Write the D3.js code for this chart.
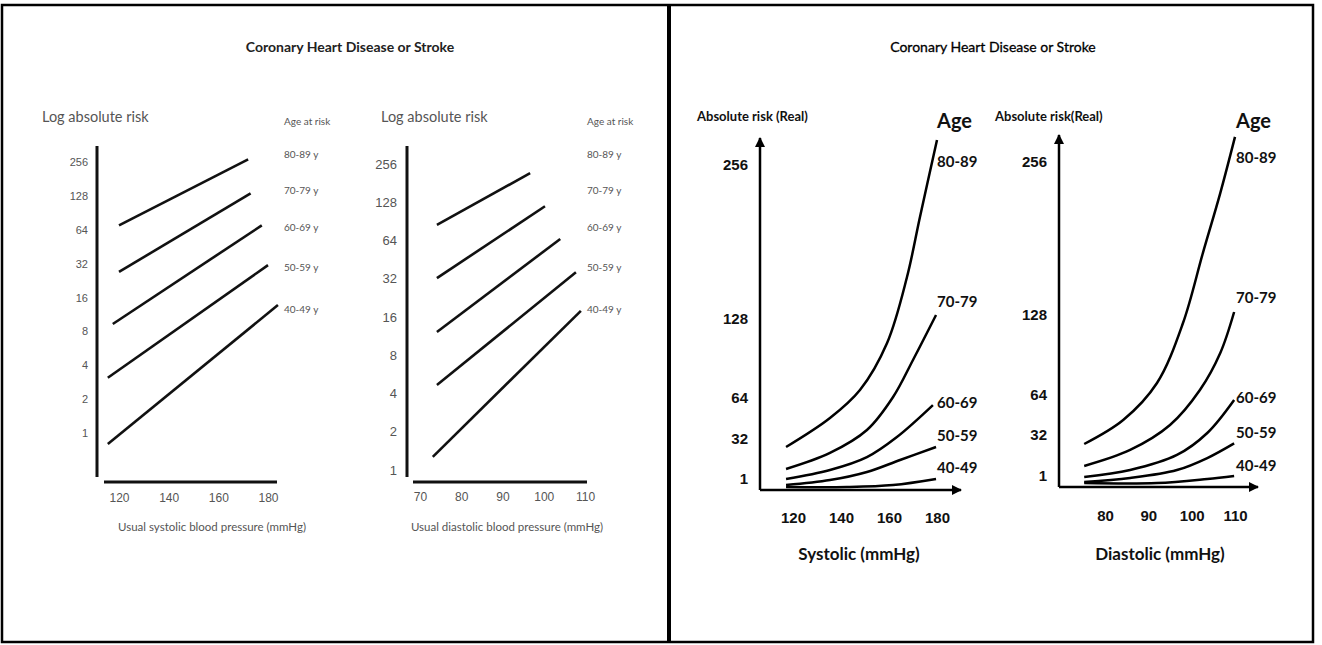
<!DOCTYPE html>
<html>
<head>
<meta charset="utf-8">
<script src="https://cdn.jsdelivr.net/npm/d3@7"></script>
<style>
  body { margin: 0; background: #fff; }
  svg { display: block; font-family: Lato, "Open Sans", sans-serif; }
</style>
</head>
<body>
<svg id="chart"></svg>
<script>
// Age groups, top to bottom
const ageGroups = ["80-89", "70-79", "60-69", "50-59", "40-49"]

// Tick values
const logRiskTicks = [1, 2, 4, 8, 16, 32, 64, 128, 256]
const realRiskTicks = [1, 32, 64, 128, 256]
const systolicTicks = [120, 140, 160, 180]
const diastolicLogTicks = [70, 80, 90, 100, 110]
const diastolicRealTicks = [80, 90, 100, 110]

// Log panel, systolic: [mmHg, risk] start and end of each age line
const systolicLogLines = [
  [[120, 70], [172, 270]],
  [[120, 27], [173, 135]],
  [[117.5, 9.3], [177.5, 70]],
  [[115.5, 3.1], [180, 31]],
  [[115.5, 0.8], [184, 13.7]]
]

// Log panel, diastolic
const diastolicLogLines = [
  [[74.1, 85], [96.7, 217]],
  [[74.1, 32.4], [100.3, 119]],
  [[74.1, 12.2], [104, 65.8]],
  [[74.1, 4.66], [107.8, 36]],
  [[73.1, 1.27], [109, 17.9]]
]

// Real panel, systolic curves
const systolicRealCurves = [
  [[117.1, 25.8], [135.4, 48.4], [147.9, 70.5], [159.2, 108.6], [167.5, 162.9], [172.9, 212.8], [180, 276.8]],
  [[117.1, 8.75], [135.4, 21.2], [150.8, 39], [161.7, 64.8], [170, 94.8], [179.6, 131.3]],
  [[117.1, 1], [135.4, 8], [150.8, 18], [163.3, 33.6], [178.3, 58.5]],
  [[117.1, 0.45], [135.4, 0.9], [150.8, 6.4], [164.6, 15.7], [179.6, 25.8]],
  [[117.1, 0.27], [142.5, 0.27], [161.7, 0.45], [179.6, 1]]
]

// Real panel, diastolic curves
const diastolicRealCurves = [
  [[75.2, 25.2], [84.2, 44], [92, 73.6], [98, 121.6], [102.6, 180], [106.6, 230], [110, 277]],
  [[75.2, 8.6], [85.8, 20.7], [95, 40], [101.9, 68], [106.6, 97.6], [109.8, 130.5]],
  [[75.2, 0.9], [85.8, 5.5], [96.6, 16.9], [103.6, 33.6], [109.8, 60]],
  [[75.2, 0.45], [85.8, 0.82], [96.6, 5.5], [103.6, 14.6], [109.8, 25.7]],
  [[75.2, 0.36], [92, 0.36], [103.6, 0.73], [109.8, 1]]
]

const svg = d3.select("#chart")
    .attr("width", 1322)
    .attr("height", 645)

// Arrow marker for the real-scale axes
svg.append("defs").append("marker")
    .attr("id", "arrow")
    .attr("viewBox", "0 0 10 10")
    .attr("refX", 9).attr("refY", 5)
    .attr("markerWidth", 4).attr("markerHeight", 4)
    .attr("markerUnits", "strokeWidth")
    .attr("orient", "auto")
  .append("path")
    .attr("d", "M0,0L10,5L0,10z")
    .attr("fill", "#000")

// Frame and divider
svg.append("rect")
    .attr("x", 2).attr("y", 5)
    .attr("width", 1311).attr("height", 637)
    .attr("fill", "none").attr("stroke", "#000").attr("stroke-width", 2.5)
svg.append("line")
    .attr("x1", 669).attr("x2", 669).attr("y1", 5).attr("y2", 642)
    .attr("stroke", "#000").attr("stroke-width", 4)

// Panel titles
svg.append("text")
    .attr("x", 350).attr("y", 46)
    .attr("text-anchor", "middle").attr("dominant-baseline", "central")
    .attr("font-size", 14).attr("font-weight", "bold").attr("fill", "#222")
    .text("Coronary Heart Disease or Stroke")
svg.append("text")
    .attr("x", 993).attr("y", 46)
    .attr("text-anchor", "middle").attr("dominant-baseline", "central")
    .attr("font-size", 14).attr("fill", "#000").attr("stroke", "#000").attr("stroke-width", 0.3)
    .text("Coronary Heart Disease or Stroke")

function logPanel(cfg) {
  let x = d3.scaleLinear().domain(cfg.xDomain).range(cfg.xRange)
  let y = d3.scaleLog().base(2).domain([1, 256]).range(cfg.yRange)
  let g = svg.append("g")

  // Axes: labels from d3, thick bare lines drawn on top
  g.append("g")
      .attr("transform", `translate(${cfg.yAxisX},0)`)
      .call(d3.axisLeft(y).tickValues(logRiskTicks).tickFormat(d3.format("d")).tickSize(0).tickPadding(cfg.yPad))
      .call(a => a.select(".domain").remove())
      .call(a => a.selectAll("text").attr("font-size", cfg.yFont).attr("fill", "#555").attr("font-family", null))
  g.append("g")
      .attr("transform", `translate(0,${cfg.xAxisY})`)
      .call(d3.axisBottom(x).tickValues(cfg.xTicks).tickSize(0))
      .call(a => a.select(".domain").remove())
      .call(a => a.selectAll("text").attr("y", cfg.xLabelDy).attr("dy", "0.35em")
        .attr("font-size", cfg.xFont).attr("fill", "#555").attr("font-family", null))

  g.append("line")
      .attr("x1", cfg.yAxisX).attr("x2", cfg.yAxisX)
      .attr("y1", cfg.yAxisTop).attr("y2", cfg.yAxisBottom)
      .attr("stroke", "#111").attr("stroke-width", 3)
  g.append("line")
      .attr("x1", cfg.xAxisLeft).attr("x2", cfg.xAxisRight)
      .attr("y1", cfg.xAxisY).attr("y2", cfg.xAxisY)
      .attr("stroke", "#111").attr("stroke-width", 3)

  let line = d3.line().x(d => x(d[0])).y(d => y(d[1]))
  g.selectAll(".age-line")
    .data(cfg.lines)
    .join("path")
      .attr("class", "age-line")
      .attr("d", line)
      .attr("fill", "none").attr("stroke", "#111").attr("stroke-width", 2.6)

  // Texts
  g.append("text")
      .attr("x", cfg.yTitleX).attr("y", 116).attr("dominant-baseline", "central")
      .attr("font-size", 14.5).attr("fill", "#555")
      .text("Log absolute risk")
  g.append("text")
      .attr("x", cfg.ageX).attr("y", 121).attr("dominant-baseline", "central")
      .attr("font-size", 10).attr("fill", "#555")
      .text("Age at risk")
  g.selectAll(".age-label")
    .data(ageGroups)
    .join("text")
      .attr("class", "age-label")
      .attr("x", cfg.ageX).attr("y", (d, i) => cfg.ageY[i])
      .attr("dominant-baseline", "central")
      .attr("font-size", 10).attr("fill", "#555")
      .text(d => d + " y")
  g.append("text")
      .attr("x", cfg.titleX).attr("y", 526)
      .attr("text-anchor", "middle").attr("dominant-baseline", "central")
      .attr("font-size", 11.5).attr("fill", "#555")
      .text(cfg.title)
}

function realPanel(cfg) {
  let x = d3.scaleLinear().domain(cfg.xDomain).range(cfg.xRange)
  let y = d3.scaleLinear().domain([0, 1, 32, 64, 128, 256]).range(cfg.yRange)
  let g = svg.append("g")
  let origin = y(0)

  g.append("g")
      .attr("transform", `translate(${cfg.yAxisX},0)`)
      .call(d3.axisLeft(y).tickValues(realRiskTicks).tickFormat(d3.format("d")).tickSize(0).tickPadding(12))
      .call(a => a.select(".domain").remove())
      .call(a => a.selectAll("text").attr("font-size", 15).attr("font-weight", "bold")
        .attr("fill", "#111").attr("font-family", null))
  g.append("g")
      .attr("transform", `translate(0,${origin})`)
      .call(d3.axisBottom(x).tickValues(cfg.xTicks).tickSize(0))
      .call(a => a.select(".domain").remove())
      .call(a => a.selectAll("text").attr("y", cfg.xLabelDy).attr("dy", "0.35em")
        .attr("font-size", 15).attr("font-weight", "bold").attr("fill", "#111").attr("font-family", null))

  g.append("line")
      .attr("x1", cfg.yAxisX).attr("x2", cfg.yAxisX)
      .attr("y1", origin).attr("y2", cfg.yAxisTop)
      .attr("stroke", "#000").attr("stroke-width", 2.5)
      .attr("marker-end", "url(#arrow)")
  g.append("line")
      .attr("x1", cfg.yAxisX).attr("x2", cfg.xAxisRight)
      .attr("y1", origin).attr("y2", origin)
      .attr("stroke", "#000").attr("stroke-width", 2.5)
      .attr("marker-end", "url(#arrow)")

  let line = d3.line().x(d => x(d[0])).y(d => y(d[1])).curve(d3.curveCatmullRom.alpha(0.5))
  g.selectAll(".age-curve")
    .data(cfg.curves)
    .join("path")
      .attr("class", "age-curve")
      .attr("d", line)
      .attr("fill", "none").attr("stroke", "#000").attr("stroke-width", 2.5)

  g.append("text")
      .attr("x", cfg.yTitleX).attr("y", 116).attr("dominant-baseline", "central")
      .attr("font-size", 13).attr("font-weight", "bold").attr("fill", "#111")
      .text(cfg.yTitle)
  g.append("text")
      .attr("x", cfg.ageX).attr("y", 120).attr("dominant-baseline", "central")
      .attr("font-size", 20).attr("font-weight", "bold").attr("fill", "#111")
      .text("Age")
  g.selectAll(".age-label")
    .data(ageGroups)
    .join("text")
      .attr("class", "age-label")
      .attr("x", cfg.ageX).attr("y", (d, i) => cfg.ageY[i])
      .attr("dominant-baseline", "central")
      .attr("font-size", 15).attr("font-weight", "bold").attr("fill", "#111")
      .text(d => d)
  g.append("text")
      .attr("x", cfg.titleX).attr("y", 553)
      .attr("text-anchor", "middle").attr("dominant-baseline", "central")
      .attr("font-size", 17).attr("font-weight", "bold").attr("fill", "#111")
      .text(cfg.title)
}

logPanel({
  xDomain: [120, 180], xRange: [119, 268], yRange: [433, 162],
  xTicks: systolicTicks, lines: systolicLogLines,
  yAxisX: 97, yAxisTop: 146, yAxisBottom: 477,
  xAxisY: 482, xAxisLeft: 104, xAxisRight: 277,
  yPad: 9, yFont: 11, xFont: 12, xLabelDy: 16,
  yTitleX: 42, ageX: 284, ageY: [154, 190, 227, 267, 309],
  titleX: 212, title: "Usual systolic blood pressure (mmHg)"
})

logPanel({
  xDomain: [70, 110], xRange: [420, 585], yRange: [470, 164],
  xTicks: diastolicLogTicks, lines: diastolicLogLines,
  yAxisX: 407, yAxisTop: 146, yAxisBottom: 477,
  xAxisY: 482, xAxisLeft: 413, xAxisRight: 587,
  yPad: 10, yFont: 13, xFont: 12, xLabelDy: 15,
  yTitleX: 381, ageX: 587, ageY: [154, 190, 227, 267, 309],
  titleX: 507, title: "Usual diastolic blood pressure (mmHg)"
})

realPanel({
  xDomain: [120, 180], xRange: [793, 937], yRange: [490, 479, 439, 398, 319, 165],
  xTicks: systolicTicks, curves: systolicRealCurves,
  yAxisX: 760, yAxisTop: 138, xAxisRight: 961, xLabelDy: 28,
  yTitleX: 697, yTitle: "Absolute risk (Real)",
  ageX: 937, ageY: [161, 301, 402, 435, 467],
  titleX: 859, title: "Systolic (mmHg)"
})

realPanel({
  xDomain: [80, 110], xRange: [1105, 1235], yRange: [487, 476, 435, 395, 315, 162],
  xTicks: diastolicRealTicks, curves: diastolicRealCurves,
  yAxisX: 1059, yAxisTop: 135, xAxisRight: 1258, xLabelDy: 29,
  yTitleX: 995, yTitle: "Absolute risk(Real)",
  ageX: 1236, ageY: [157, 297, 397, 432, 465],
  titleX: 1160, title: "Diastolic (mmHg)"
})
</script>
</body>
</html>
